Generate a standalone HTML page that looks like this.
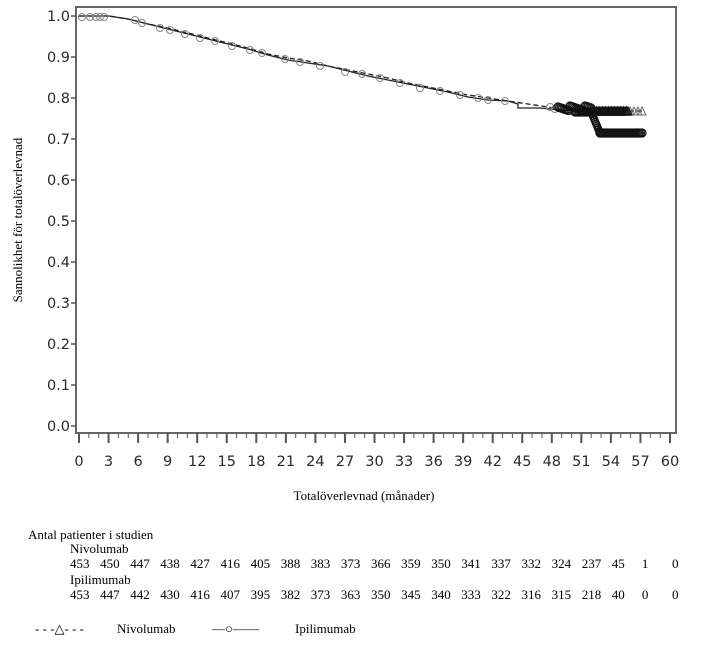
<!DOCTYPE html>
<html><head><meta charset="utf-8"><style>
html,body{margin:0;padding:0;background:#fff;}
svg{display:block;}
.t{font-family:"DejaVu Sans","Liberation Sans",sans-serif;font-size:14.5px;fill:#2a2a2a;}
.s{font-family:"Liberation Serif",serif;font-size:13px;fill:#000;}
</style></head><body>
<svg width="706" height="645" viewBox="0 0 706 645" xmlns="http://www.w3.org/2000/svg">
<rect x="76" y="7" width="600" height="426" fill="none" stroke="#666" stroke-width="2"/>
<g stroke="#555" stroke-width="1.5">
<line x1="71" y1="16" x2="76" y2="16"/><line x1="71" y1="57" x2="76" y2="57"/><line x1="71" y1="98" x2="76" y2="98"/><line x1="71" y1="139" x2="76" y2="139"/><line x1="71" y1="180" x2="76" y2="180"/><line x1="71" y1="221" x2="76" y2="221"/><line x1="71" y1="262" x2="76" y2="262"/><line x1="71" y1="303" x2="76" y2="303"/><line x1="71" y1="344" x2="76" y2="344"/><line x1="71" y1="385" x2="76" y2="385"/><line x1="71" y1="426" x2="76" y2="426"/>
</g>
<g class="t" text-anchor="end">
<text x="70" y="21">1.0</text><text x="70" y="62">0.9</text><text x="70" y="103">0.8</text><text x="70" y="144">0.7</text><text x="70" y="185">0.6</text><text x="70" y="226">0.5</text><text x="70" y="267">0.4</text><text x="70" y="308">0.3</text><text x="70" y="349">0.2</text><text x="70" y="390">0.1</text><text x="70" y="431">0.0</text>
</g>
<g id="ticks" stroke="#555"></g>
<g class="t" text-anchor="middle" id="xl"></g>
<text class="s" x="22" y="220" text-anchor="middle" transform="rotate(-90 22 220)" font-size="13">Sannolikhet för totalöverlevnad</text>
<text class="s" x="364" y="500" text-anchor="middle" font-size="14">Totalöverlevnad (månader)</text>
<polyline fill="none" stroke="#222" stroke-width="1.3" stroke-dasharray="5,3" points="79,16 109,16 128,19 148,24 168,28 188,33 208,38 228,43 248,48 268,54 288,58 308,61 328,66 348,70 368,74 388,78 408,83 428,87 448,91 468,95 488,98 508,101 528,104 548,107 562,110 575,110 600,111 645,111"/>
<polyline fill="none" stroke="#222" stroke-width="1.3" points="79,16 109,16 128,19 148,24 168,29 188,34 208,39 228,44 248,49 268,55 288,60 308,63 328,66 348,71 368,76 388,80 408,84 428,88 448,92 468,97 488,100 508,101 518,104 518,108 540,108 560,110 580,111 592,111 598,122 600,133 645,133"/>
<g fill="none" stroke="#888" stroke-width="1" id="marks"></g>
<g fill="none" stroke="#111" stroke-width="1.2" id="dense"></g>
<text class="s" x="28" y="539" font-size="14">Antal patienter i studien</text>
<text class="s" x="70" y="553">Nivolumab</text>
<text class="s" x="70" y="584">Ipilimumab</text>
<g class="s" id="n1"></g><g class="s" id="n2"></g>
<text class="s" x="35" y="633">- - -△- - -</text>
<text class="s" x="117" y="633">Nivolumab</text>
<text class="s" x="212" y="633">—○——</text>
<text class="s" x="295" y="633">Ipilimumab</text>
</svg>
<script>
var ns="http://www.w3.org/2000/svg";
function el(p,t,a,txt){var e=document.createElementNS(ns,t);for(var k in a)e.setAttribute(k,a[k]);if(txt!==undefined)e.textContent=txt;document.getElementById(p).appendChild(e);}
for(var m=0;m<=60;m++){var x=79+9.85*m;el("ticks","line",{x1:x,y1:433,x2:x,y2:m%3==0?443:438,"stroke-width":m%3==0?2:1});if(m%3==0)el("xl","text",{x:x,y:466},m);}
var a="453 450 447 438 427 416 405 388 383 373 366 359 350 341 337 332 324 237 45 1 0".split(" ");
var b="453 447 442 430 416 407 395 382 373 363 350 345 340 333 322 316 315 218 40 0 0".split(" ");
for(var i=0;i<21;i++){el("n1","text",{x:70+30.1*i,y:568},a[i]);el("n2","text",{x:70+30.1*i,y:599},b[i]);}
var pts=[[82,16],[90,16],[96,16],[100,16],[104,16],[135,19],[142,22],[160,27],[170,29],[185,33],[200,37],[215,40],[232,45],[250,49],[262,52],[285,58],[300,61],[320,65],[345,71],[362,73],[380,77],[400,82],[420,87],[440,90],[460,94],[478,97],[488,99],[505,100],[550,106],[555,108]];
pts.forEach(function(p){el("marks","circle",{cx:p[0],cy:p[1]+1,r:3.5});});
// dense blob
for(var x=558;x<=592;x+=1.5){el("dense","circle",{cx:x,cy:108+((x*7)%5)-2,r:4});}
for(var x=575;x<=593;x+=1.5){el("dense","circle",{cx:x,cy:112,r:4});}
for(var t=0;t<=1;t+=0.1){el("dense","circle",{cx:592+t*8,cy:114+t*19,r:3.5});}
for(var x=600;x<=642;x+=1.5){el("dense","circle",{cx:x,cy:133,r:4});}
for(var x=592;x<=628;x+=1.5){el("dense","path",{d:"M"+(x-4)+",115 L"+x+",107 L"+(x+4)+",115 Z"});}
for(var x=630;x<=642;x+=4){el("marks","path",{d:"M"+(x-4)+",115 L"+x+",107 L"+(x+4)+",115 Z",stroke:"#666"});}
</script>
</body></html>
